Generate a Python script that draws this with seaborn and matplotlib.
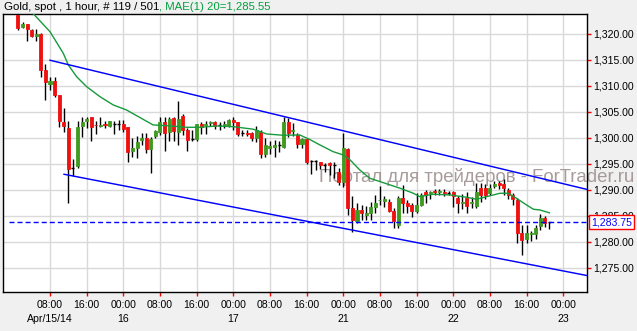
import matplotlib
matplotlib.use("Agg")
import matplotlib.pyplot as plt
import matplotlib.transforms as mtransforms
from matplotlib.ticker import FuncFormatter
import seaborn as sns
import pandas as pd

# ---------------- data (hourly candles, bar index 7 = Apr/15 08:00) ----------------
open_ = [1323.7,1321.4,1321.9,1320.8,1319.6,1320.0,1313.1,1310.4,1311.0,1308.2,
         1303.1,1301.9,1294.2,1294.6,1302.3,1303.2,1304.1,1302.5,1302.3,1302.6,
         1302.2,1302.7,1302.7,1302.7,1302.1,1297.5,1298.1,1299.5,1299.9,1297.9,
         1300.4,1301.1,1303.0,1301.1,1303.9,1301.2,1304.2,1301.5,1299.7,1299.7,
         1302.6,1302.4,1302.9,1303.0,1302.4,1302.3,1302.2,1303.4,1303.1,1300.9,
         1300.9,1301.0,1300.0,1301.1,1296.8,1298.1,1298.2,1298.6,1298.3,1303.1,
         1301.3,1300.5,1298.9,1299.8,1295.5,1295.5,1295.4,1294.8,1295.1,1294.8,
         1293.4,1291.4,1297.8,1286.4,1284.0,1286.1,1285.2,1285.6,1286.6,1288.0,
         1287.8,1287.7,1285.9,1283.3,1288.5,1287.4,1287.0,1285.9,1287.1,1289.6,
         1289.3,1289.7,1289.5,1289.6,1289.4,1289.6,1288.4,1287.4,1288.5,1287.4,
         1286.9,1290.4,1290.4,1289.4,1290.7,1291.3,1291.1,1290.0,1288.9,1288.0,
         1281.7,1280.6,1281.4,1281.4,1283.0,1284.6,1283.75]
close_ = [1321.1,1321.9,1321.0,1319.7,1320.0,1313.1,1310.7,1311.0,1308.2,1303.3,
          1302.3,1294.0,1294.2,1302.0,1303.1,1303.6,1302.1,1302.4,1302.5,1302.4,
          1303.2,1302.7,1302.7,1301.7,1297.3,1298.1,1299.2,1299.9,1297.9,1299.7,
          1301.3,1303.0,1300.9,1303.6,1301.3,1303.6,1301.5,1299.6,1299.7,1302.6,
          1302.0,1302.6,1303.1,1302.2,1302.4,1302.6,1303.4,1303.1,1300.7,1300.9,
          1300.7,1300.0,1301.5,1296.9,1298.6,1298.4,1298.7,1298.6,1303.1,1300.9,
          1301.5,1298.9,1299.8,1295.4,1295.5,1295.5,1294.8,1294.8,1294.8,1294.8,
          1291.4,1298.0,1286.4,1284.2,1286.1,1285.6,1285.5,1286.6,1287.5,1288.1,
          1288.2,1285.9,1283.9,1288.4,1287.5,1286.9,1285.9,1287.1,1289.0,1289.0,
          1289.6,1289.5,1289.7,1289.3,1289.4,1288.7,1287.4,1287.7,1286.9,1287.6,
          1289.5,1289.0,1289.0,1290.4,1291.1,1290.9,1290.3,1289.0,1288.2,1281.7,
          1280.4,1281.6,1281.6,1282.6,1284.6,1283.6,1283.75]
high_ = [1323.9,1322.3,1322.0,1321.0,1321.0,1320.1,1314.2,1311.8,1311.8,1308.3,
         1305.7,1303.2,1295.9,1303.2,1304.0,1304.1,1304.1,1303.2,1304.1,1303.2,
         1303.3,1303.3,1303.5,1303.4,1302.1,1300.0,1300.4,1301.0,1300.9,1300.2,
         1301.5,1304.1,1304.1,1304.0,1304.0,1307.0,1304.5,1301.8,1301.5,1302.7,
         1303.0,1303.2,1303.3,1303.3,1303.0,1303.2,1303.6,1304.1,1303.1,1301.5,
         1301.6,1301.1,1302.3,1301.5,1300.0,1299.3,1299.6,1299.3,1304.1,1303.8,
         1302.9,1301.0,1300.0,1299.8,1295.7,1295.7,1295.4,1295.2,1295.4,1295.4,
         1294.1,1301.0,1298.0,1288.7,1287.4,1287.0,1286.9,1287.6,1289.0,1290.7,
         1288.7,1288.2,1286.5,1288.7,1291.0,1288.0,1287.4,1289.3,1289.4,1289.9,
         1289.8,1290.1,1290.1,1290.1,1289.8,1289.8,1288.7,1289.1,1289.5,1288.6,
         1291.3,1291.3,1291.1,1291.1,1291.6,1291.6,1292.0,1290.3,1289.3,1288.4,
         1283.2,1283.2,1282.1,1283.2,1285.3,1284.9,1283.8]
low_ = [1320.8,1321.2,1318.7,1319.4,1318.7,1311.7,1307.2,1309.2,1307.8,1302.0,
        1301.2,1287.5,1292.7,1294.2,1300.1,1301.8,1299.4,1300.8,1302.0,1301.9,
        1302.0,1300.7,1301.5,1301.1,1295.4,1296.4,1296.2,1298.6,1297.0,1293.3,
        1300.0,1300.6,1297.5,1299.4,1299.4,1298.6,1300.5,1297.5,1299.4,1299.4,
        1300.7,1300.7,1302.2,1301.7,1301.5,1301.8,1302.0,1301.6,1300.3,1300.3,
        1300.3,1299.4,1299.2,1296.2,1296.4,1296.8,1296.4,1297.2,1298.0,1300.1,
        1300.3,1298.0,1298.0,1294.9,1293.0,1293.8,1293.9,1293.5,1292.8,1292.2,
        1291.0,1290.6,1285.1,1281.9,1283.6,1284.2,1284.2,1284.2,1285.6,1287.1,
        1286.7,1285.7,1282.7,1282.6,1285.5,1285.6,1284.8,1285.5,1286.8,1287.4,
        1288.2,1289.0,1289.0,1288.7,1289.0,1286.7,1285.6,1286.3,1285.5,1286.5,
        1286.5,1287.7,1288.2,1289.0,1290.3,1290.1,1289.0,1288.3,1287.1,1279.7,
        1277.4,1279.7,1280.2,1280.5,1282.3,1282.9,1282.4]

# 20-period moving average
ma_idx = [3.4,7,9.9,11,12.8,15,17.9,20.8,23.7,26.6,29.5,32.5,36.8,39.7,43.4,47,51.4,
          54.3,57.9,61.5,63.7,65.9,68.8,71,72.5,74.6,76.8,79.7,83.4,86.3,87.7,90.6,
          94.3,97.9,100.1,102.3,105.2,107,108.8,111,112.5,113.9,116]
ma_val = [1323.85,1320.44,1316.28,1314.03,1311.78,1309.85,1307.93,1306.33,1305.36,
          1303.92,1302.48,1302.34,1302.03,1302.03,1302.28,1302.15,1301.65,1300.74,
          1300.49,1300.55,1299.68,1298.63,1297.33,1296.70,1295.74,1293.81,1292.21,
          1291.37,1290.29,1289.32,1288.67,1289.13,1289.0,1288.55,1288.17,1288.67,
          1289.32,1289.32,1288.36,1287.07,1286.24,1286.11,1285.55]

# channel lines
upper_idx = [7, 124.2]
upper_val = [1314.94, 1290.06]
lower_idx = [10.06, 124.2]
lower_val = [1292.98, 1273.47]
last_price = 1283.75

tick_idx = [7, 15, 23, 31, 39, 47, 55, 63, 71, 79, 87, 95, 103, 111, 119]
tick_lab = ["08:00", "16:00", "00:00", "08:00", "16:00", "00:00", "08:00", "16:00",
            "00:00", "08:00", "16:00", "00:00", "08:00", "16:00", "00:00"]
date_idx = [7, 23, 47, 71, 95, 119]
date_lab = ["Apr/15/14", "16", "17", "21", "22", "23"]
y_ticks = [1275, 1280, 1285, 1290, 1295, 1300, 1305, 1310, 1315, 1320]

# ---------------- figure ----------------
FONT = "Liberation Sans"
FS = 7.6
W, H = 637, 331
fig = plt.figure(figsize=(W / 100, H / 100), dpi=100, facecolor="#f0f0f0")
ax = fig.add_axes([3 / W, (H - 292) / H, 584 / W, 278 / H])
ax.set_facecolor("white")

df = pd.DataFrame({"i": range(len(open_)), "o": open_, "h": high_, "l": low_, "c": close_})
RED, GREEN = "#f01010", "#3f9b1f"
BW = 0.66

ax.vlines(df["i"], df["l"], df["h"], color="black", lw=1, zorder=3)
up = df[df["c"] > df["o"] + 0.01]
dn = df[df["c"] < df["o"] - 0.01]
dj = df[(df["c"] - df["o"]).abs() <= 0.01]
ax.bar(up["i"], up["c"] - up["o"], bottom=up["o"], width=BW, color=GREEN,
       edgecolor=GREEN, lw=0.6, zorder=4)
ax.bar(dn["i"], dn["o"] - dn["c"], bottom=dn["c"], width=BW, color=RED,
       edgecolor=RED, lw=0.6, zorder=4)
ax.hlines(dj["o"], dj["i"] - BW / 2, dj["i"] + BW / 2, color="black", lw=1, zorder=4)

sns.lineplot(x=ma_idx, y=ma_val, color="#169a3c", lw=1, ax=ax, zorder=5,
             estimator=None, sort=False)
sns.lineplot(x=upper_idx, y=upper_val, color="#0000ff", lw=1.05, ax=ax, zorder=5,
             estimator=None, sort=False)
sns.lineplot(x=lower_idx, y=lower_val, color="#0000ff", lw=1.05, ax=ax, zorder=5,
             estimator=None, sort=False)
ax.axhline(last_price, xmin=0.01, color="#0000ff", lw=1, ls=(0, (3.6, 2.2)), zorder=5)

ax.set_xlim(-3.26, 124.2)
ax.set_ylim(1270.3, 1323.85)

# grid
ax.set_axisbelow(True)
ax.grid(True, color="#d9d9d9", lw=1)

# axes ticks
ax.set_xticks(tick_idx)
ax.set_xticklabels(tick_lab)
ax.set_yticks(y_ticks)
ax.yaxis.set_major_formatter(FuncFormatter(lambda v, p: f"{v:,.2f}"))
ax.yaxis.tick_right()
ax.tick_params(axis="both", colors="red", labelcolor="black", length=3, width=1,
               direction="out", labelsize=FS)
ax.tick_params(axis="x", pad=3)
ax.tick_params(axis="y", pad=1.5)
for lab in ax.get_xticklabels() + ax.get_yticklabels():
    lab.set_fontfamily(FONT)
for s in ax.spines.values():
    s.set_color("black")
    s.set_linewidth(1)
ax.set_xlabel("")
ax.set_ylabel("")

# date row
tr = mtransforms.blended_transform_factory(ax.transData, ax.transAxes)
for xi, lab in zip(date_idx, date_lab):
    ax.text(xi, (292 - 318.5) / 278, lab, transform=tr, ha="center", va="center",
            fontsize=FS, family=FONT, color="black", clip_on=False)

# last price box
trp = mtransforms.blended_transform_factory(ax.transAxes, ax.transData)
ax.text(1.0 + 4 / 584, last_price, "1,283.75", transform=trp, ha="left", va="center",
        fontsize=FS, family=FONT, color="#0000ff", clip_on=False, zorder=10,
        bbox=dict(boxstyle="square,pad=0.2", fc="white", ec="red", lw=1))

# watermark
ax.text((476.5 - 3) / 584, (292 - 176.5) / 278, "Портал для трейдеров - ForTrader.ru",
        transform=ax.transAxes, ha="center", va="center", fontsize=13.4, family=FONT,
        color="#9a8a8a", alpha=0.85, zorder=2, clip_on=False)

# title
t1 = fig.text(4 / W, 1 - 7.5 / H, "Gold, spot , 1 hour, # 119 / 501", ha="left",
              va="center", fontsize=FS + 0.6, family=FONT, color="black")
ax.annotate(", MAE(1) 20=1,285.55", xy=(1, 0.5), xycoords=t1, ha="left", va="center",
            fontsize=FS + 0.6, family=FONT, color="#00a03c", annotation_clip=False)

fig.savefig("out.png", dpi=100, facecolor=fig.get_facecolor())
